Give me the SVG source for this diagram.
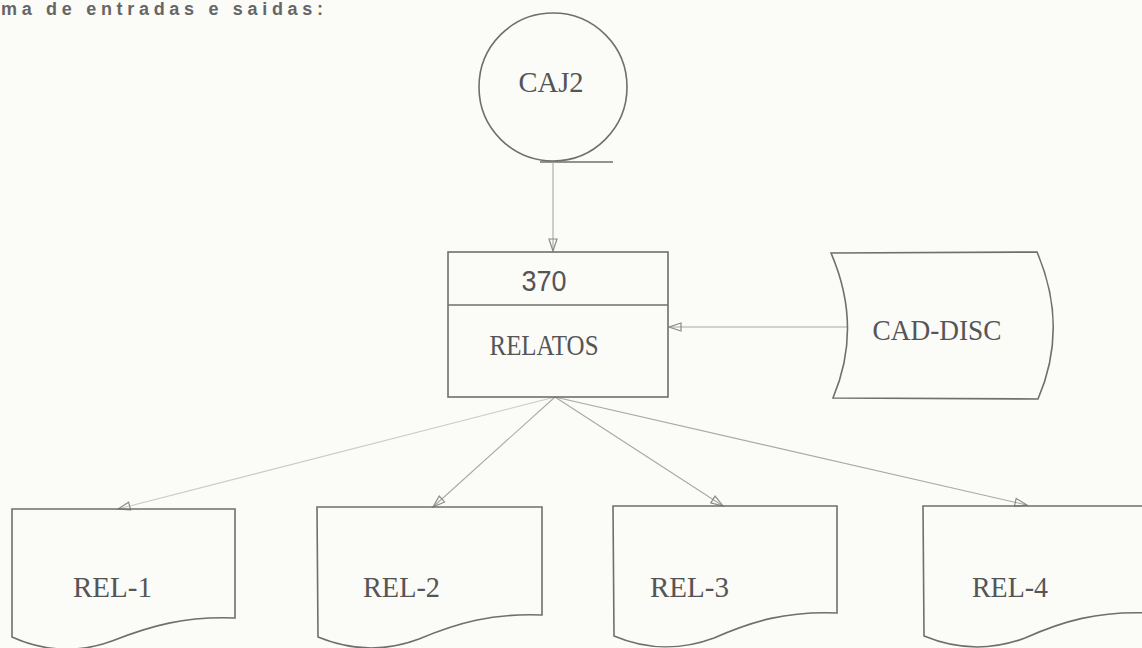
<svg xmlns="http://www.w3.org/2000/svg" width="1142" height="648" viewBox="0 0 1142 648">
  <defs>
    <style>
      .shape { fill: none; stroke: #6f6f6f; stroke-width: 1.6; }
      .conn { fill: none; stroke: #a8a8a8; stroke-width: 1.1; }
      .lbl { font-family: "Liberation Serif", "DejaVu Serif", serif; font-size: 29px; fill: #555; }
      .num { font-family: "Liberation Sans", "DejaVu Sans", sans-serif; font-size: 29px; fill: #555; }
      .hdr { font-family: "Liberation Sans", "DejaVu Sans", sans-serif; font-size: 18px; font-weight: bold; fill: #666; }
    </style>
    <marker id="arrow" markerUnits="userSpaceOnUse" markerWidth="16" markerHeight="12" refX="13" refY="5" orient="auto">
      <path d="M1,1 L13,5 L1,9 Z" fill="none" stroke="#8a8a8a" stroke-width="1.2"/>
    </marker>
  </defs>
  <rect width="1142" height="648" fill="#fbfbf8"/>

  <text class="hdr" x="1" y="15" textLength="322" lengthAdjust="spacing">ma de entradas e saidas:</text>

  <g id="connectors">
    <line class="shape" x1="540" y1="162" x2="613" y2="162"/>
    <line class="conn" x1="553" y1="162" x2="553" y2="251" marker-end="url(#arrow)"/>
    <line class="conn" x1="847" y1="327" x2="669" y2="327" marker-end="url(#arrow)"/>
    <line class="conn" x1="555" y1="397" x2="118" y2="509" marker-end="url(#arrow)" stroke-opacity="0.6"/>
    <line class="conn" x1="555" y1="397" x2="433" y2="507" marker-end="url(#arrow)"/>
    <line class="conn" x1="555" y1="397" x2="723" y2="506" marker-end="url(#arrow)"/>
    <line class="conn" x1="555" y1="397" x2="1027" y2="505" marker-end="url(#arrow)"/>
  </g>

  <g id="caj2">
    <circle class="shape" cx="553" cy="87" r="74"/>
    <text class="lbl" x="551" y="92" text-anchor="middle" textLength="65" lengthAdjust="spacingAndGlyphs">CAJ2</text>
  </g>

  <g id="relatos">
    <rect class="shape" x="448" y="252" width="220" height="145"/>
    <line class="shape" x1="448" y1="305" x2="668" y2="305"/>
    <text class="num" x="544" y="291" text-anchor="middle" textLength="45" lengthAdjust="spacingAndGlyphs">370</text>
    <text class="lbl" x="544" y="355" text-anchor="middle" textLength="109" lengthAdjust="spacingAndGlyphs">RELATOS</text>
  </g>

  <g id="cad-disc">
    <path class="shape" d="M831,253 L1037,252 Q1069,327 1038,399 L833,398 Q863,327 831,253 Z"/>
    <text class="lbl" x="937" y="340" text-anchor="middle" textLength="129" lengthAdjust="spacingAndGlyphs">CAD-DISC</text>
  </g>

  <g id="rel-1">
    <path class="shape" d="M12,509 L235,509 L235,618 C185,616 150,626 112,641 C80,653 45,652 12,637 Z"/>
    <text class="lbl" x="73" y="597" textLength="79" lengthAdjust="spacingAndGlyphs">REL-1</text>
  </g>

  <g id="rel-2">
    <path class="shape" d="M317,507 L542,507 L542,615 C492,613 457,623 419,639 C387,651 352,651 318,637 Z"/>
    <text class="lbl" x="363" y="597" textLength="77" lengthAdjust="spacingAndGlyphs">REL-2</text>
  </g>

  <g id="rel-3">
    <path class="shape" d="M613,506 L837,506 L837,613 C787,611 752,621 714,638 C682,650 647,650 614,636 Z"/>
    <text class="lbl" x="650" y="597" textLength="79" lengthAdjust="spacingAndGlyphs">REL-3</text>
  </g>

  <g id="rel-4">
    <path class="shape" d="M923,506 L1148,506 L1148,613 C1098,611 1063,621 1025,638 C993,650 958,650 924,636 Z"/>
    <text class="lbl" x="972" y="597" textLength="76" lengthAdjust="spacingAndGlyphs">REL-4</text>
  </g>
</svg>
